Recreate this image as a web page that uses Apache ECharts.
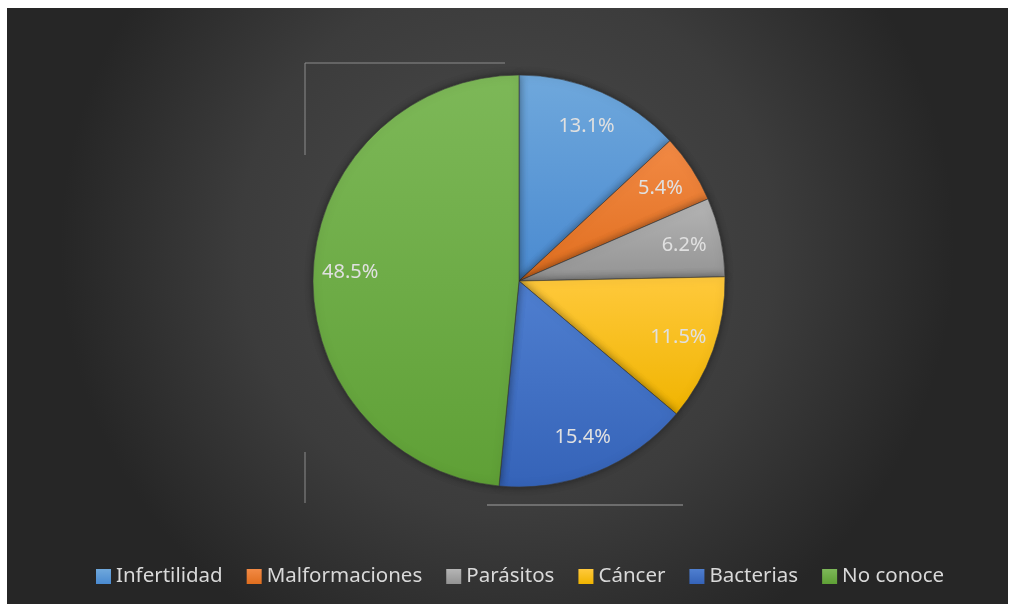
<!DOCTYPE html>
<html><head><meta charset="utf-8">
<script src="https://cdn.jsdelivr.net/npm/echarts@6/dist/echarts.min.js"></script>
<style>
html,body{margin:0;padding:0;background:#ffffff;width:1014px;height:608px;overflow:hidden;}
#c{position:absolute;left:7px;top:8px;width:1001px;height:596px;}
</style></head><body>
<div id="c"></div>
<script>
const categories = ['Infertilidad','Malformaciones','Parásitos','Cáncer','Bacterias','No conoce'];
const values = [13.1, 5.4, 6.2, 11.5, 15.4, 48.5];
const topColors = ['#6fa8dc','#f28a45','#b5b5b5','#ffc93c','#4f7fd0','#7db858'];
const bottomColors = ['#4a8ad0','#e06e1e','#939393','#f0b400','#3563b8','#5fa036'];

const chart = echarts.init(document.getElementById('c'));
function grad(i){
  return new echarts.graphic.LinearGradient(0,0,0,1,[{offset:0,color:topColors[i]},{offset:1,color:bottomColors[i]}]);
}
const pieData = categories.map((n,i)=>({name:n,value:values[i],itemStyle:{color:grad(i)}}));
const labelData = categories.map((n,i)=>({name:n,value:values[i]}));
const cx = 512, cy = 273, R = 206;
chart.setOption({
  backgroundColor: new echarts.graphic.RadialGradient(0.5,0.4,0.75,[{offset:0,color:'#4b4b4b'},{offset:0.6,color:'#3c3c3c'},{offset:1,color:'#262626'}]),
  animation:false,
  legend:{
    bottom: 12, left: 84,
    itemWidth:15, itemHeight:15, itemGap:24,
    icon:'rect',
    itemStyle:{borderWidth:0},
    textStyle:{color:'#d9d9d9',fontSize:20.5,fontFamily:'Noto Sans'},
    data: categories
  },
  series:[
    {
      type:'pie', center:[cx,cy], radius:[0,R], startAngle:90, clockwise:true,
      itemStyle:{borderColor:'#3a3a3a',borderWidth:0.6,shadowBlur:8,shadowColor:'rgba(0,0,0,0.45)'},
      label:{show:false}, labelLine:{show:false},
      emphasis:{disabled:true},
      data: pieData
    },
    {
      type:'pie', center:[cx,cy], radius:[126,R], startAngle:90, clockwise:true,
      silent:true, legendHoverLink:false,
      itemStyle:{color:'rgba(0,0,0,0)',borderWidth:0},
      label:{show:true,position:'inside',color:'#e0e0e0',fontSize:20,fontFamily:'Noto Sans',
        formatter:p=>p.value.toFixed(1)+'%'},
      labelLine:{show:false},
      emphasis:{disabled:true},
      data: labelData
    }
  ],
  graphic:[
    {type:'polyline',shape:{points:[[298,147],[298,55],[498,55]]},style:{stroke:'#8c8c8c',lineWidth:1,fill:null},silent:true},
    {type:'line',shape:{x1:298,y1:444,x2:298,y2:495},style:{stroke:'#8c8c8c',lineWidth:1},silent:true},
    {type:'line',shape:{x1:480,y1:497,x2:676,y2:497},style:{stroke:'#a0a0a0',lineWidth:1},silent:true}
  ]
});
</script>
</body></html>
